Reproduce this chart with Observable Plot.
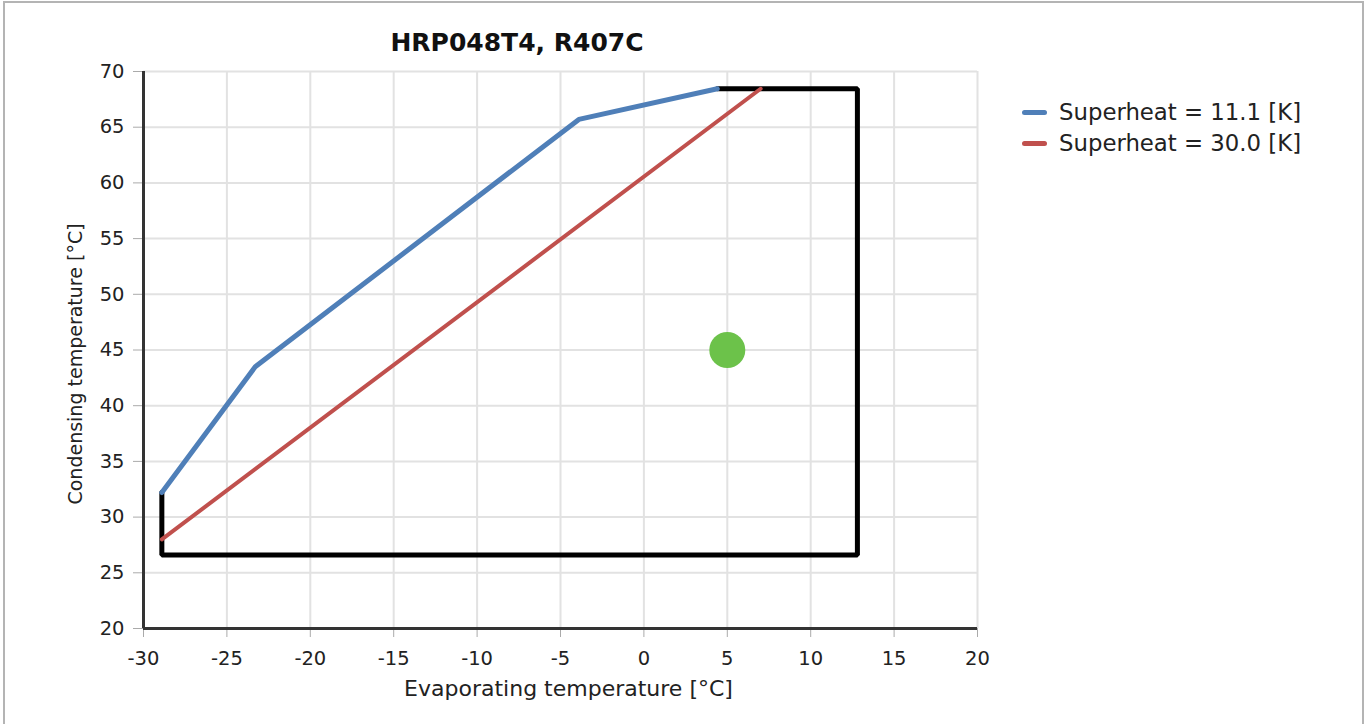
<!DOCTYPE html>
<html>
<head>
<meta charset="utf-8">
<script src="https://cdn.jsdelivr.net/npm/d3@7"></script>
<script src="https://cdn.jsdelivr.net/npm/@observablehq/plot@0.6"></script>
<style>
  html, body { margin: 0; padding: 0; background: #fff; }
  body { width: 1371px; height: 724px; overflow: hidden; position: relative; font-family: "DejaVu Sans", Verdana, sans-serif; }
  #frame { position: absolute; left: 3px; top: 1px; width: 1361px; height: 740px; border: 2px solid #b4b4b4; box-sizing: border-box; }
  #chart { position: absolute; left: 0; top: 0; }
  #title { position: absolute; left: 517px; top: 42px; transform: translate(-50%, -50%); font-weight: bold; font-size: 25px; color: #111; white-space: nowrap; }
  .leg { position: absolute; left: 1022px; display: flex; align-items: center; font-size: 22.8px; color: #222; white-space: nowrap; }
  .leg .sw { width: 25px; height: 5px; border-radius: 2.5px; margin-right: 12px; }
</style>
</head>
<body>
<div id="frame"></div>
<div id="chart"></div>
<div id="title"></div>
<div id="legend"></div>
<script>
const titleText = "HRP048T4, R407C";
const xLabel = "Evaporating temperature [°C]";
const yLabel = "Condensing temperature [°C]";
const xTicks = [-30, -25, -20, -15, -10, -5, 0, 5, 10, 15, 20];
const yTicks = [20, 25, 30, 35, 40, 45, 50, 55, 60, 65, 70];

const seriesNames = ["Superheat = 11.1 [K]", "Superheat = 30.0 [K]"];
const seriesColors = ["#4f7fb8", "#c0504d"];

const sh11X = [-28.9, -23.3, -3.9, 4.4];
const sh11Y = [32.2, 43.5, 65.7, 68.45];
const sh30X = [-28.9, 7.0];
const sh30Y = [28.0, 68.45];

const envX = [4.4, 12.8, 12.8, -28.9, -28.9];
const envY = [68.45, 68.45, 26.6, 26.6, 32.2];

const pointX = [5];
const pointY = [45];

const toRows = (xs, ys) => xs.map((x, i) => ({x, y: ys[i]}));
const sh11 = toRows(sh11X, sh11Y);
const sh30 = toRows(sh30X, sh30Y);
const env = toRows(envX, envY);
const pts = toRows(pointX, pointY);

const chart = Plot.plot({
  width: 1371,
  height: 724,
  marginLeft: 143,
  marginRight: 394,
  marginTop: 71,
  marginBottom: 96,
  style: {fontFamily: "DejaVu Sans, Verdana, sans-serif", fontSize: "19.5px", color: "#222", background: "transparent"},
  x: {domain: [-30, 20]},
  y: {domain: [20, 70]},
  marks: [
    Plot.gridX(xTicks, {stroke: "#e2e2e2", strokeOpacity: 1, strokeWidth: 2}),
    Plot.gridY(yTicks, {stroke: "#e2e2e2", strokeOpacity: 1, strokeWidth: 2}),
    Plot.axisX(xTicks, {tickSize: 9, tickPadding: 14, stroke: "#aaa", fill: "#222", fontSize: 19.5, tickFormat: d => d < 0 ? "-" + Math.abs(d) : String(d), label: null}),
    Plot.axisY(yTicks, {tickSize: 10, tickPadding: 9, stroke: "#aaa", fill: "#222", fontSize: 19.5, label: null}),
    Plot.text([xLabel], {frameAnchor: "bottom", lineAnchor: "middle", dy: 60, dx: 8, fontSize: 22, fill: "#222"}),
    Plot.text([yLabel], {frameAnchor: "left", textAnchor: "middle", lineAnchor: "middle", rotate: -90, dx: -68, dy: 14, fontSize: 19, fill: "#222"}),
    Plot.ruleX([-30], {stroke: "#333", strokeWidth: 3}),
    Plot.ruleY([20], {stroke: "#333", strokeWidth: 3}),
    Plot.line(env, {x: "x", y: "y", stroke: "#000", strokeWidth: 5, strokeLinejoin: "miter"}),
    Plot.line(sh11, {x: "x", y: "y", stroke: seriesColors[0], strokeWidth: 5}),
    Plot.line(sh30, {x: "x", y: "y", stroke: seriesColors[1], strokeWidth: 4}),
    Plot.dot(pts, {x: "x", y: "y", r: 18, fill: "#6cc24a", stroke: "none"})
  ]
});
document.getElementById("chart").appendChild(chart);
document.getElementById("title").textContent = titleText;

const legend = document.getElementById("legend");
const legTops = [112, 143];
seriesNames.forEach((name, i) => {
  const row = document.createElement("div");
  row.className = "leg";
  row.style.top = (legTops[i] - 14) + "px";
  row.style.height = "28px";
  const sw = document.createElement("div");
  sw.className = "sw";
  sw.style.background = seriesColors[i];
  const t = document.createElement("span");
  t.textContent = name;
  row.appendChild(sw);
  row.appendChild(t);
  legend.appendChild(row);
});
</script>
</body>
</html>
